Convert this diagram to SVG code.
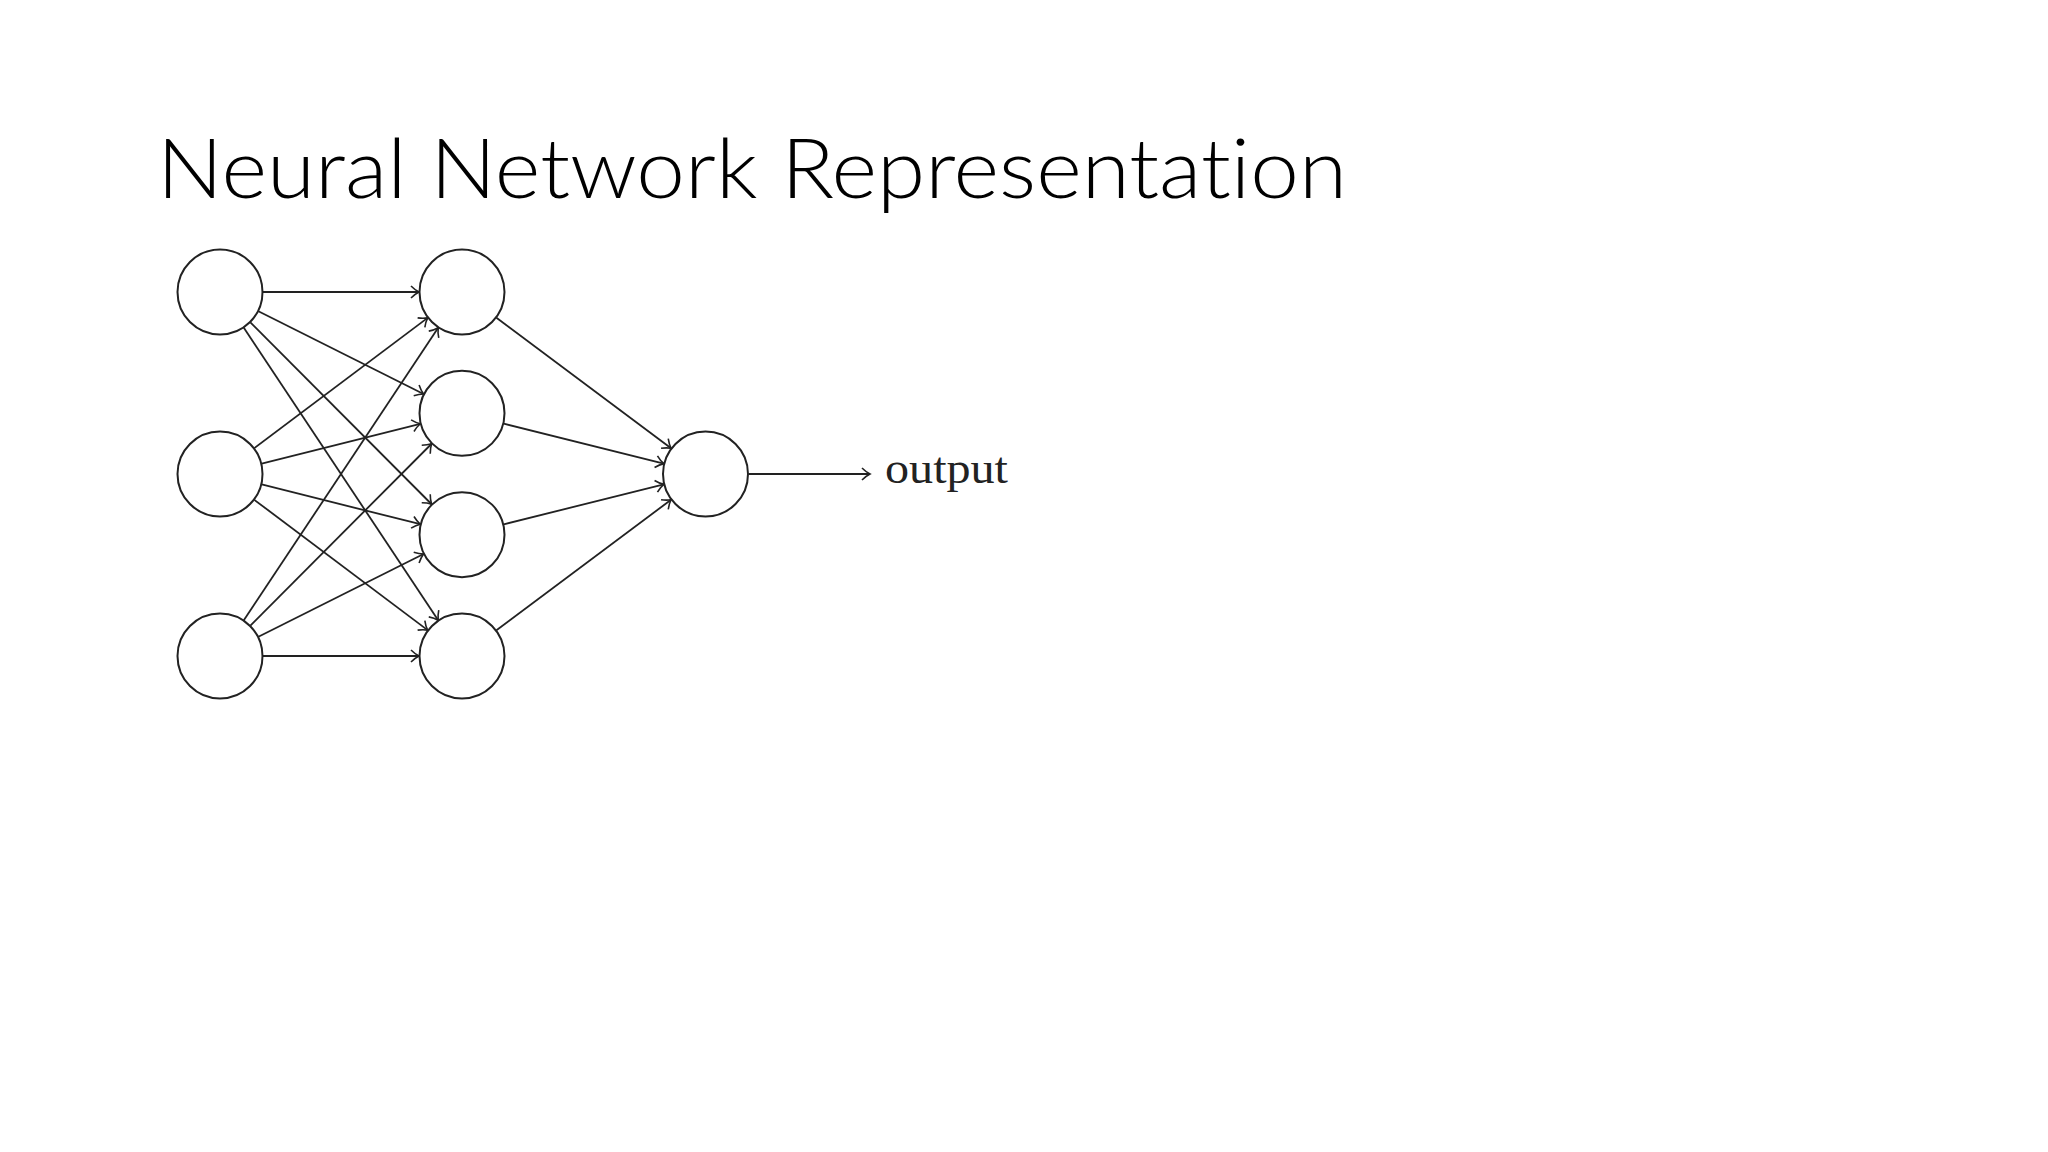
<svg xmlns="http://www.w3.org/2000/svg" width="2048" height="1152" viewBox="0 0 2048 1152">
<style>
.node{fill:#fff;stroke:#222;stroke-width:2}
.edge{stroke:#222;stroke-width:1.8;fill:none;marker-end:url(#arr)}
.title{font-family:Lato,"Open Sans","Liberation Sans",sans-serif;font-weight:300;font-size:83px;fill:#000;font-variant-ligatures:none;font-feature-settings:"liga" 0}
.lbl{font-family:"Liberation Serif","DejaVu Serif",serif;font-size:44px;fill:#222}
</style>
<defs>
<marker id="arr" viewBox="-10 -8 12 16" refX="0" refY="0" markerWidth="12" markerHeight="16" markerUnits="userSpaceOnUse" orient="auto" overflow="visible">
<path d="M-8,-6 C-5,-3 -2,-1 0,0 C-2,1 -5,3 -8,6" fill="none" stroke="#222" stroke-width="1.6"/>
</marker>
</defs>
<rect width="2048" height="1152" fill="#fff"/>
<text class="title" x="157" y="198" textLength="1190" lengthAdjust="spacingAndGlyphs">Neural Network Representation</text>
<g id="connectors">
<line class="edge" x1="263" y1="292" x2="419" y2="292"/>
<line class="edge" x1="258.44" y1="311.27" x2="423.56" y2="394.03"/>
<line class="edge" x1="250.37" y1="322.45" x2="431.63" y2="504.25"/>
<line class="edge" x1="243.81" y1="327.81" x2="438.19" y2="620.19"/>
<line class="edge" x1="254.37" y1="448.15" x2="427.63" y2="317.85"/>
<line class="edge" x1="261.71" y1="463.54" x2="420.29" y2="423.76"/>
<line class="edge" x1="261.71" y1="484.46" x2="420.29" y2="524.24"/>
<line class="edge" x1="254.37" y1="499.85" x2="427.63" y2="630.15"/>
<line class="edge" x1="243.81" y1="620.19" x2="438.19" y2="327.81"/>
<line class="edge" x1="250.37" y1="625.55" x2="431.63" y2="443.75"/>
<line class="edge" x1="258.44" y1="636.73" x2="423.56" y2="553.97"/>
<line class="edge" x1="263" y1="656" x2="419" y2="656"/>
<line class="edge" x1="496.44" y1="317.74" x2="671.06" y2="448.26"/>
<line class="edge" x1="503.72" y1="423.70" x2="663.78" y2="463.60"/>
<line class="edge" x1="503.72" y1="524.30" x2="663.78" y2="484.40"/>
<line class="edge" x1="496.44" y1="630.26" x2="671.06" y2="499.74"/>
<line class="edge" x1="748.5" y1="474" x2="870" y2="474"/>
</g>
<g id="input1"><circle class="node" cx="220" cy="292" r="42.5"/></g>
<g id="input2"><circle class="node" cx="220" cy="474" r="42.5"/></g>
<g id="input3"><circle class="node" cx="220" cy="656" r="42.5"/></g>
<g id="hidden1"><circle class="node" cx="462" cy="292" r="42.5"/></g>
<g id="hidden2"><circle class="node" cx="462" cy="413.3" r="42.5"/></g>
<g id="hidden3"><circle class="node" cx="462" cy="534.7" r="42.5"/></g>
<g id="hidden4"><circle class="node" cx="462" cy="656" r="42.5"/></g>
<g id="output"><circle class="node" cx="705.5" cy="474" r="42.5"/></g>
<g id="output-label"><text class="lbl" x="885" y="483" textLength="123" lengthAdjust="spacingAndGlyphs">output</text></g>
</svg>
